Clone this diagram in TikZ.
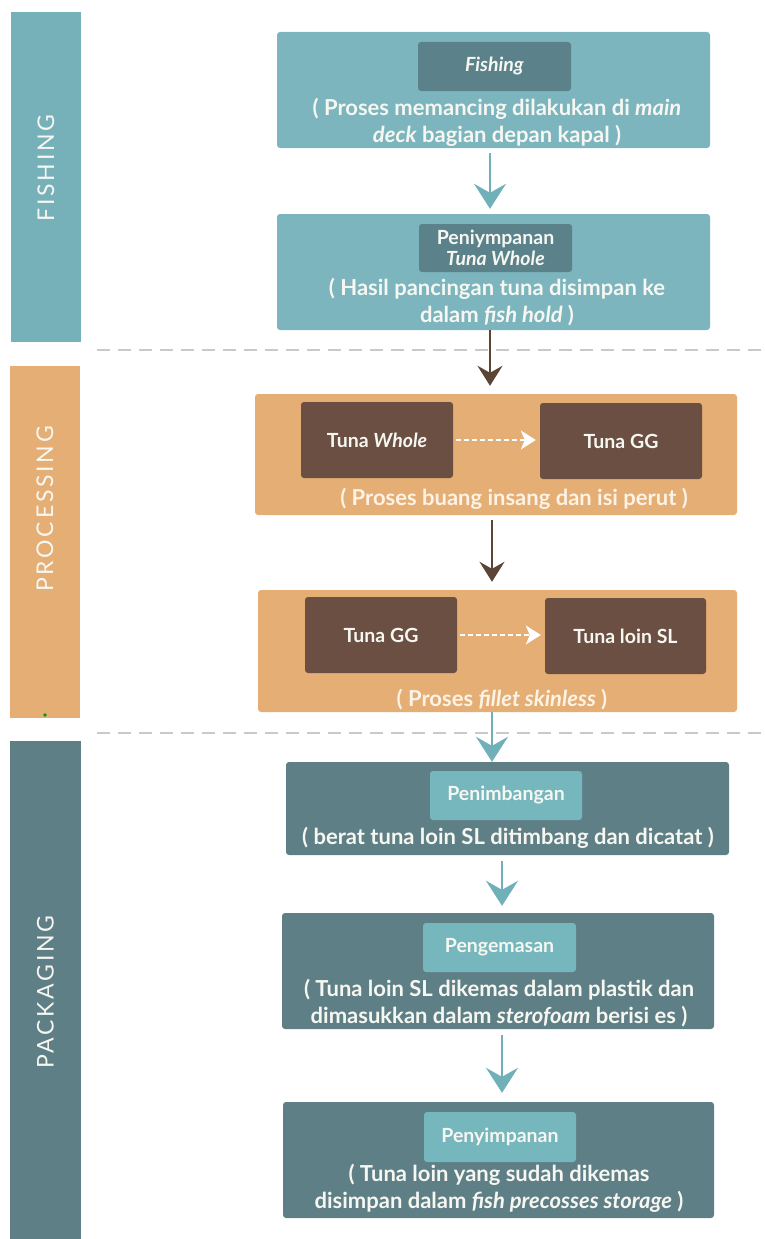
\documentclass[tikz,border=0pt]{standalone}
\usepackage{fontspec}
\setmainfont{Lato}
\newfontfamily\sidefont[LetterSpace=12]{Lato}
\usetikzlibrary{arrows.meta,calc}

\definecolor{tealL}{HTML}{7CB5BE}
\definecolor{tealD}{HTML}{5B828A}
\definecolor{tealBar}{HTML}{76B1BA}
\definecolor{orangeL}{HTML}{E4AE74}
\definecolor{brownD}{HTML}{6A4F42}
\definecolor{brownA}{HTML}{5C4535}
\definecolor{slateD}{HTML}{5F7F86}
\definecolor{tealIn}{HTML}{76B6BD}
\definecolor{tealA}{HTML}{70B1B9}
\definecolor{txtW}{HTML}{F7F7F2}
\definecolor{txtC}{HTML}{FCF3E6}
\definecolor{sepG}{HTML}{C9C9C9}

\tikzset{
  sidebar/.style={fill=#1, draw=none, inner sep=0pt},
  panel/.style={fill=#1, draw=none, rounded corners=3pt, inner sep=0pt},
  tag/.style={fill=#1, draw=none, rounded corners=3pt, inner sep=0pt,
    text=txtW, font=\bfseries\fontsize{19.5}{23}\selectfont, align=center},
  note/.style={text=#1, font=\bfseries\fontsize{22}{27}\selectfont, align=center, inner sep=0pt},
  sidelabel/.style={text=txtW, rotate=90, font=\sidefont\fontsize{23}{26}\selectfont, inner sep=0pt},
  flowT/.style={draw=tealA, line width=2.4pt, -{Stealth[length=25pt,width=32pt,inset=9pt]}},
  flowB/.style={draw=brownA, line width=2.4pt, -{Stealth[length=20pt,width=25pt,inset=7pt]}},
  inner flow/.style={draw=white, dashed, dash pattern=on 5pt off 3pt, line width=1.6pt,
    -{Stealth[length=15pt,width=19pt,inset=4pt]}},
  separator/.style={draw=sepG, line width=2pt, dash pattern=on 13pt off 8pt}
}

\begin{document}
\begin{tikzpicture}[x=1pt,y=-1pt]
\useasboundingbox (0,0) rectangle (765,1239);

% stage bars on the left
\node[sidebar=tealBar, minimum width=70pt, minimum height=330pt] (barF) at (46,177) {};
\node[sidelabel] (lblF) at (46,168) {FISHING};
\node[sidebar=orangeL, minimum width=70pt, minimum height=352pt] (barP) at (45,542) {};
\node[sidelabel] (lblP) at (45,509) {PROCESSING};
\node[sidebar=slateD, minimum width=71pt, minimum height=498pt] (barK) at (45.5,990) {};
\node[sidelabel] (lblK) at (45.5,992) {PACKAGING};
\fill[green!60!black] (45,715) circle (1.8pt);

% stage separators
\coordinate (s1a) at (97,350);
\coordinate (s1b) at (765,350);
\coordinate (s2a) at (97,733);
\coordinate (s2b) at (765,733);
\draw[separator] (s1a) -- (s1b);
\draw[separator] (s2a) -- (s2b);

% fishing stage
\node[panel=tealL, minimum width=433pt, minimum height=116pt] (f1) at (493.5,90) {};
\node[tag=tealD, minimum width=153pt, minimum height=49pt] (f1tag) at (494.5,66.5) {\textit{Fishing}};
\node[note=txtW] (f1txt) at (497,122) {( Proses memancing dilakukan di \textit{main}\\\textit{deck} bagian depan kapal )};

\node[panel=tealL, minimum width=433pt, minimum height=116pt] (f2) at (493.5,272) {};
\node[tag=tealD, minimum width=153pt, minimum height=48pt] (f2tag) at (495.5,248) {Peniympanan\\[-2pt]\textit{Tuna Whole}};
\node[note=txtW] (f2txt) at (497,302.5) {( Hasil pancingan tuna disimpan ke\\dalam \textit{fish hold} )};

% processing stage
\node[panel=orangeL, minimum width=482pt, minimum height=121pt] (p1) at (496,454.5) {};
\node[tag=brownD, minimum width=152pt, minimum height=76pt] (p1a) at (377,440) {Tuna \textit{Whole}};
\node[tag=brownD, minimum width=162pt, minimum height=76pt] (p1b) at (621,441) {Tuna GG};
\node[note=txtC] (p1txt) at (514,499) {( Proses buang insang dan isi perut )};

\node[panel=orangeL, minimum width=479pt, minimum height=122pt] (p2) at (497.5,651) {};
\node[tag=brownD, minimum width=152pt, minimum height=76pt] (p2a) at (381,635) {Tuna GG};
\node[tag=brownD, minimum width=161pt, minimum height=76pt] (p2b) at (625.5,636) {Tuna loin SL};
\node[note=txtC] (p2txt) at (502,700) {( Proses \textit{fillet skinless} )};

% packaging stage
\node[panel=slateD, minimum width=443pt, minimum height=93pt] (k1) at (507.5,808.5) {};
\node[tag=tealIn, minimum width=152pt, minimum height=49pt] (k1tag) at (506,795.5) {Penimbangan};
\node[note=txtW] (k1txt) at (508,838) {( berat tuna loin SL ditimbang dan dicatat )};

\node[panel=slateD, minimum width=432pt, minimum height=116pt] (k2) at (498,971) {};
\node[tag=tealIn, minimum width=153pt, minimum height=49pt] (k2tag) at (499.5,947.5) {Pengemasan};
\node[note=txtW] (k2txt) at (499,1003.5) {( Tuna loin SL dikemas dalam plastik dan\\dimasukkan dalam \textit{sterofoam} berisi es )};

\node[panel=slateD, minimum width=431pt, minimum height=116pt] (k3) at (498.5,1160) {};
\node[tag=tealIn, minimum width=152pt, minimum height=50pt] (k3tag) at (500,1137) {Penyimpanan};
\node[note=txtW] (k3txt) at (499,1188.5) {( Tuna loin yang sudah dikemas\\disimpan dalam \textit{fish precosses storage} )};

% vertical flow lines
\coordinate (xA) at (490,0);
\coordinate (xB) at (492,0);
\coordinate (xC) at (502,0);
\draw[flowT, shorten <=5pt, shorten >=5pt] (f1.south -| xA) -- (f2.north -| xA);
\draw[flowB, shorten >=8pt] (f2.south -| xA) -- (p1.north -| xA);
\draw[flowB, shorten <=5pt, shorten >=8pt] (p1.south -| xB) -- (p2.north -| xB);
\draw[flowT] (p2.south -| xB) -- (k1.north -| xB);
\draw[flowT, shorten <=6pt, shorten >=7pt] (k1.south -| xC) -- (k2.north -| xC);
\draw[flowT, shorten <=6pt, shorten >=9pt] (k2.south -| xC) -- (k3.north -| xC);

% transformations inside the processing panels
\draw[inner flow, shorten <=3pt, shorten >=4pt] (p1a.east) -- (p1a.east -| p1b.west);
\draw[inner flow, shorten <=3pt, shorten >=4pt] (p2a.east) -- (p2a.east -| p2b.west);
\end{tikzpicture}
\end{document}
